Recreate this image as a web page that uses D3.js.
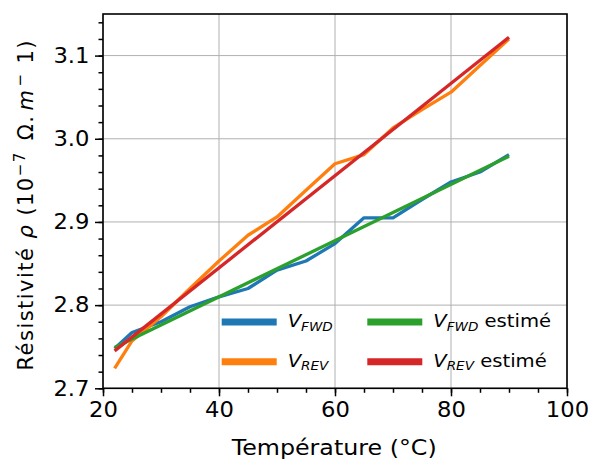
<!DOCTYPE html>
<html><head><meta charset="utf-8">
<script src="https://cdn.jsdelivr.net/npm/d3@7"></script>
<style>
body{margin:0;background:#fff;}
text{font-family:"DejaVu Sans",sans-serif;fill:#000;}
</style></head>
<body><svg id="c" width="592" height="461"></svg>
<script>
// Data
const tempFwd = [22, 25, 30, 35, 40, 45, 50, 55, 60, 65, 70, 75, 80, 85, 90];
const rhoFwd  = [2.748, 2.767, 2.780, 2.798, 2.810, 2.820, 2.842, 2.853, 2.874, 2.905, 2.905, 2.927, 2.948, 2.960, 2.981];
const tempRev = [22, 25, 30, 35, 40, 45, 50, 55, 60, 65, 70, 75, 80, 85, 90];
const rhoRev  = [2.724, 2.757, 2.786, 2.820, 2.853, 2.884, 2.906, 2.938, 2.970, 2.981, 3.013, 3.035, 3.056, 3.088, 3.120];
const tempEst = [22, 90];
const rhoFwdEst = [2.749, 2.979];
const rhoRevEst = [2.745, 3.122];
const xTicks = [20, 40, 60, 80, 100];
const yTicks = [2.7, 2.8, 2.9, 3.0, 3.1];

const svg = d3.select("#c");
const L = 103, R = 567, T = 14, B = 388.3;
const SX = 1.08; // horizontal text stretch of the reference
const x = d3.scaleLinear().domain([20, 100]).range([L, R]);
const y = d3.scaleLinear().domain([2.7, 3.15]).range([B, T]);

// grid
const g = svg.append("g");
g.selectAll(".gx").data(xTicks).join("line")
  .attr("x1", d => x(d)).attr("x2", d => x(d)).attr("y1", T).attr("y2", B)
  .attr("stroke", "#b0b0b0").attr("stroke-width", 1);
g.selectAll(".gy").data(yTicks).join("line")
  .attr("y1", d => y(d)).attr("y2", d => y(d)).attr("x1", L).attr("x2", R)
  .attr("stroke", "#b0b0b0").attr("stroke-width", 1);

// lines
const series = [
  {xs: tempFwd, ys: rhoFwd, c: "#1f77b4"},
  {xs: tempRev, ys: rhoRev, c: "#ff7f0e"},
  {xs: tempEst, ys: rhoFwdEst, c: "#2ca02c"},
  {xs: tempEst, ys: rhoRevEst, c: "#d62728"}
];
const line = d3.line().x(d => x(d[0])).y(d => y(d[1]));
series.forEach(s => {
  svg.append("path").datum(s.xs.map((v, i) => [v, s.ys[i]]))
    .attr("d", line).attr("fill", "none").attr("stroke", s.c)
    .attr("stroke-width", 3.3).attr("stroke-linejoin", "round").attr("stroke-linecap", "butt");
});

// axes
const fs = 21;
const xAxis = d3.axisBottom(x).tickValues(xTicks).tickSize(8).tickPadding(6).tickFormat(d3.format("d"));
const xMinor = d3.axisBottom(x).tickValues(d3.range(20, 101, 5)).tickSize(4.5).tickFormat("");
const yAxis = d3.axisLeft(y).tickValues(yTicks).tickSize(8).tickPadding(4.5).tickFormat(d3.format(".1f"));
const yMinor = d3.axisLeft(y).tickValues(d3.range(0, 23).map(i => 2.7 + i * 0.02)).tickSize(4.5).tickFormat("");

function style(sel) {
  sel.select(".domain").remove();
  sel.selectAll("line").attr("stroke", "#000").attr("stroke-width", 1.5);
  sel.selectAll("text").attr("font-size", fs).attr("font-family", "DejaVu Sans")
    .attr("transform", `scale(${SX},1)`);
}
svg.append("g").attr("transform", `translate(0,${B})`).call(xMinor).call(style);
svg.append("g").attr("transform", `translate(0,${B})`).call(xAxis).call(style);
svg.append("g").attr("transform", `translate(${L},0)`).call(yMinor).call(style);
svg.append("g").attr("transform", `translate(${L},0)`).call(yAxis).call(style);

// frame
svg.append("rect").attr("x", L).attr("y", T).attr("width", R - L).attr("height", B - T)
  .attr("fill", "none").attr("stroke", "#000").attr("stroke-width", 1.6);

// axis labels
svg.append("text").attr("x", 334.2).attr("y", 455).attr("text-anchor", "middle")
  .attr("font-size", fs).attr("textLength", 205).attr("lengthAdjust", "spacingAndGlyphs")
  .text("Température (°C)");

const yl = svg.append("text").attr("transform", `translate(32.5,205.5) rotate(-90)`)
  .attr("text-anchor", "middle").attr("font-size", fs);
yl.append("tspan").text("Résistivité ");
yl.append("tspan").attr("font-style", "italic").text("ρ");
yl.append("tspan").text(" (10");
yl.append("tspan").attr("font-size", 15).attr("dy", -8).text("−7");
yl.append("tspan").attr("dy", 8).attr("dx", 3).text(" Ω.");
yl.append("tspan").attr("dx", 4).attr("font-style", "italic").text("m");
yl.append("tspan").attr("font-size", 15).attr("dx", 2).attr("dy", -8).text("−");
yl.append("tspan").attr("dy", 8).attr("dx", 9).text("1)");
const ylen = yl.node().getComputedTextLength();
if (ylen < 330) yl.attr("textLength", 330).attr("lengthAdjust", "spacing");

// legend
const legendItems = [
  {sub: "FWD", extra: "", c: "#1f77b4", col: 0, row: 0},
  {sub: "REV", extra: "", c: "#ff7f0e", col: 0, row: 1},
  {sub: "FWD", extra: " estimé", c: "#2ca02c", col: 1, row: 0},
  {sub: "REV", extra: " estimé", c: "#d62728", col: 1, row: 1}
];
const colX = [221.7, 367.3], rowY = [322, 361.7];
legendItems.forEach(it => {
  const lx = colX[it.col], ly = rowY[it.row];
  svg.append("line").attr("x1", lx).attr("x2", lx + 55).attr("y1", ly).attr("y2", ly)
    .attr("stroke", it.c).attr("stroke-width", 7);
  const t = svg.append("text")
    .attr("transform", `translate(${lx + 66},${ly + 5}) scale(1.06,1)`).attr("font-size", 18.5);
  t.append("tspan").attr("font-style", "italic").text("V");
  t.append("tspan").attr("font-style", "italic").attr("font-size", 12.8).attr("dy", 3.5).text(it.sub);
  if (it.extra) t.append("tspan").attr("dy", -3.5).text(it.extra);
});
</script></body></html>
